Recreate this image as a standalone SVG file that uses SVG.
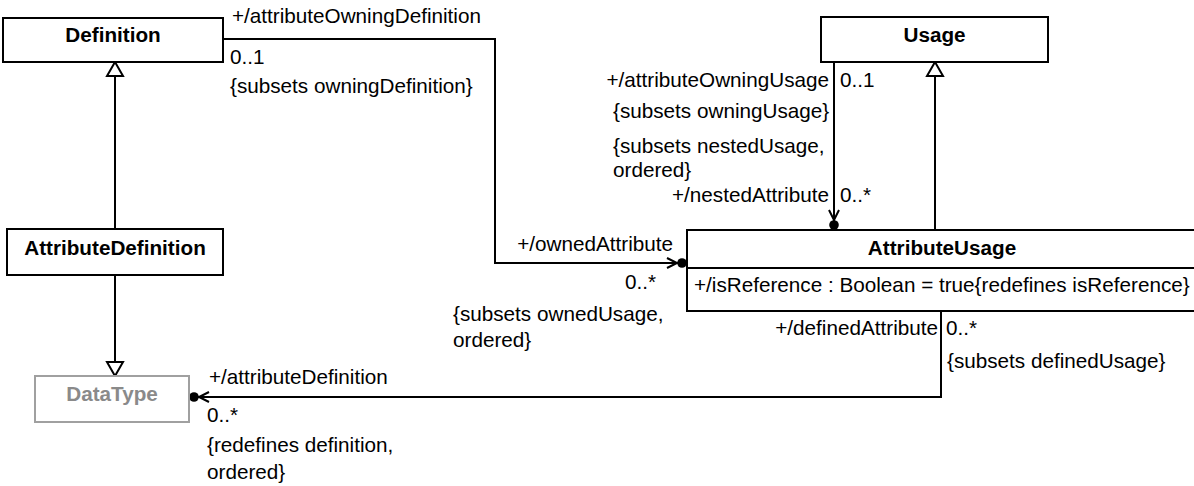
<svg xmlns="http://www.w3.org/2000/svg" width="1194" height="486" viewBox="0 0 1194 486">
<defs>
<style>
text{font-family:"Liberation Sans",Arial,sans-serif;font-size:20.7px;fill:#000}
.b{font-weight:bold}
.box{fill:#fff;stroke:#000;stroke-width:2}
.grey{fill:#fff;stroke:#a0a0a0;stroke-width:2}
.gt{fill:#8a8a8a}
.c{fill:none;stroke:#000;stroke-width:2}
.m{text-anchor:middle}
.e{text-anchor:end}
</style>
<marker id="gen" markerUnits="userSpaceOnUse" viewBox="-16 -10 18 20" refX="0" refY="0" markerWidth="18" markerHeight="20" orient="auto" overflow="visible">
<path d="M0,0 L-14,-8 L-14,8 Z" fill="#fff" stroke="#000" stroke-width="2"/>
</marker>
<marker id="nav" markerUnits="userSpaceOnUse" viewBox="-24 -10 26 20" refX="0" refY="0" markerWidth="26" markerHeight="20" orient="auto" overflow="visible">
<path d="M-20,-5 L-10,0 L-20,5" fill="none" stroke="#000" stroke-width="2"/>
<circle cx="-5" cy="0" r="4.8" fill="#000"/>
</marker>
</defs>
<rect width="1194" height="486" fill="#fff"/>

<g id="connectors">
<path class="c" d="M115,229 L115,62" marker-end="url(#gen)"/>
<path class="c" d="M115,275 L115,376" marker-end="url(#gen)"/>
<path class="c" d="M935,230 L935,62" marker-end="url(#gen)"/>
<path class="c" d="M223,39 L495,39 L495,263 L687,263" marker-end="url(#nav)"/>
<path class="c" d="M834,62 L834,230" marker-end="url(#nav)"/>
<path class="c" d="M941,311 L941,397 L189,397" marker-end="url(#nav)"/>
</g>

<g id="Definition">
<rect class="box" x="3" y="18" width="220" height="44"/>
<text class="b m" x="113" y="42">Definition</text>
</g>

<g id="AttributeDefinition">
<rect class="box" x="7" y="229" width="216" height="46"/>
<text class="b m" x="115" y="255">AttributeDefinition</text>
</g>

<g id="DataType">
<rect class="grey" x="35" y="376" width="154" height="46"/>
<text class="b m gt" x="112" y="401">DataType</text>
</g>

<g id="Usage">
<rect class="box" x="821" y="17" width="227" height="45"/>
<text class="b m" x="934.5" y="42">Usage</text>
</g>

<g id="AttributeUsage">
<rect class="box" x="687" y="230" width="520" height="81"/>
<line x1="687" y1="268" x2="1207" y2="268" stroke="#000" stroke-width="2"/>
<text class="b m" x="942" y="255">AttributeUsage</text>
<text x="694" y="292">+/isReference : Boolean = true{redefines isReference}</text>
</g>

<g id="labels">
<text x="232" y="23">+/attributeOwningDefinition</text>
<text x="230" y="64">0..1</text>
<text x="230" y="93">{subsets owningDefinition}</text>

<text class="e" x="829" y="87">+/attributeOwningUsage</text>
<text x="840" y="87">0..1</text>
<text x="613" y="118">{subsets owningUsage}</text>
<text x="613" y="153">{subsets nestedUsage,</text>
<text x="613" y="177">ordered}</text>
<text class="e" x="829" y="202">+/nestedAttribute</text>
<text x="840" y="202">0..*</text>

<text class="e" x="673" y="251">+/ownedAttribute</text>
<text x="625" y="289">0..*</text>
<text x="453" y="321">{subsets ownedUsage,</text>
<text x="453" y="347">ordered}</text>

<text class="e" x="938" y="335">+/definedAttribute</text>
<text x="946" y="335">0..*</text>
<text x="947" y="368">{subsets definedUsage}</text>

<text x="209" y="384">+/attributeDefinition</text>
<text x="207" y="422">0..*</text>
<text x="207" y="452">{redefines definition,</text>
<text x="207" y="479">ordered}</text>
</g>
</svg>
